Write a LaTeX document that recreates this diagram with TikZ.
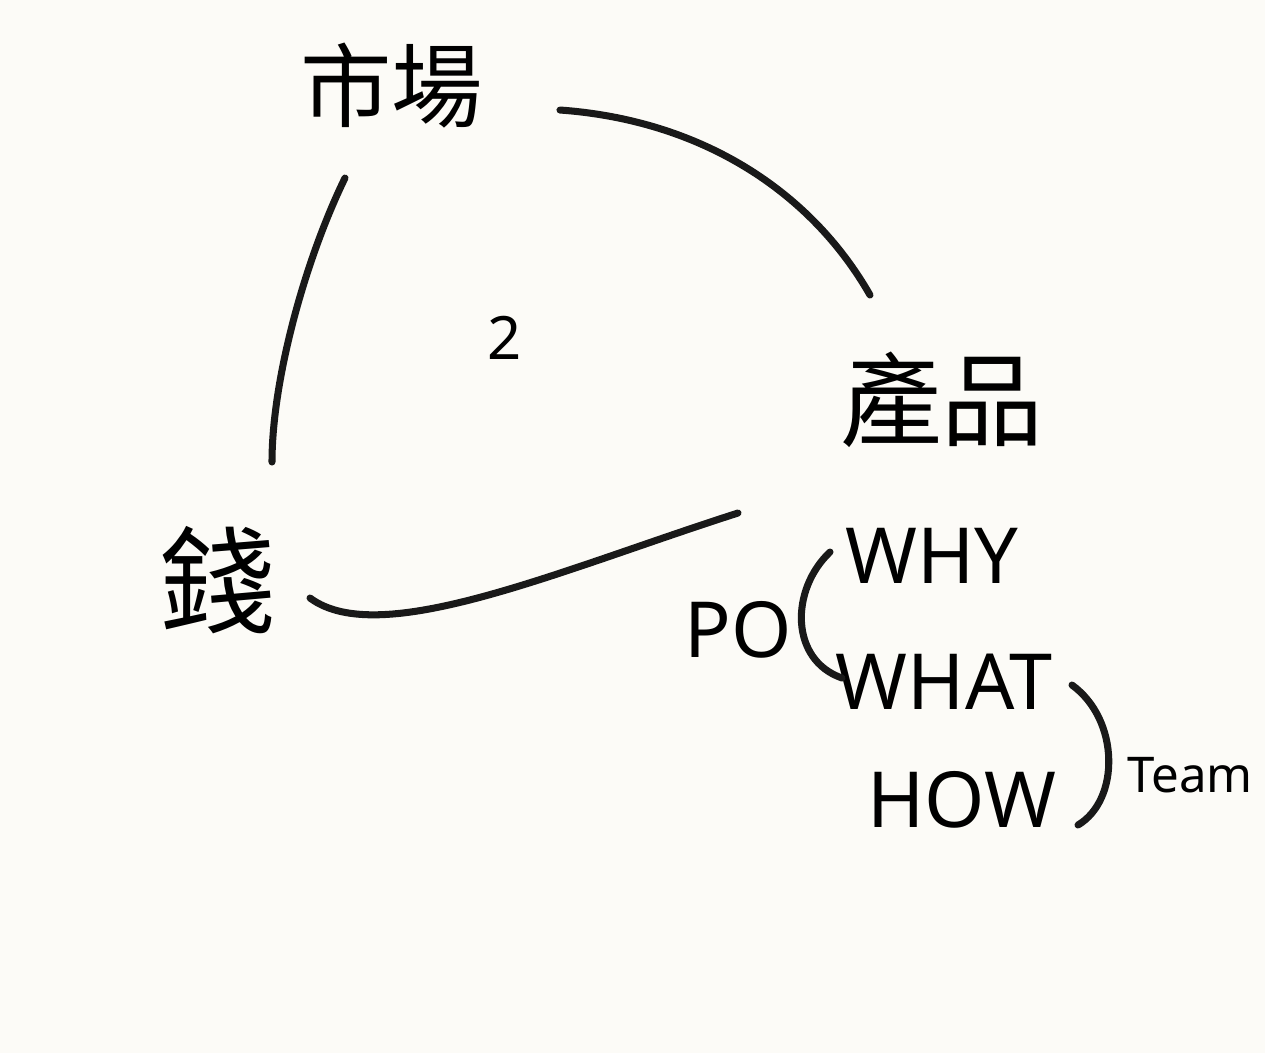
\documentclass[tikz,border=0pt]{standalone}
\usepackage{fontspec}
\newfontfamily\cjk{Noto Sans CJK TC}
\newfontfamily\hand{Noto Sans}
\definecolor{paper}{RGB}{252,251,247}
\begin{document}
\begin{tikzpicture}[x=0.01cm,y=-0.01cm,
  stroke/.style={line width=2pt,line cap=round,black!90},
  cjklabel/.style={font=\cjk\fontsize{26}{30}\selectfont,inner sep=0pt},
  latin/.style={font=\hand\fontsize{22}{26}\selectfont,inner sep=0pt},
  small/.style={font=\hand\fontsize{14}{18}\selectfont,inner sep=0pt}]
\fill[paper] (0,0) rectangle (1265,1053);
\useasboundingbox (0,0) rectangle (1265,1053);
\node[cjklabel] (market) at (392,86) {市場};
\node[cjklabel,font=\cjk\fontsize{29}{32}\selectfont] (product) at (942,400) {產品};
\node[cjklabel,font=\cjk\fontsize{33}{36}\selectfont] (money) at (218,580) {錢};
\node[small,font=\hand\fontsize{17}{20}\selectfont] (two) at (505,338) {2};
\node[latin] (why) at (932,556) {WHY};
\node[latin] (what) at (944,682) {WHAT};
\node[latin] (how) at (962,800) {HOW};
\node[latin] (po) at (738,630) {PO};
\node[small] (team) at (1190,775) {Team};
\coordinate (a1) at (560,110);
\coordinate (a2) at (870,295);
\coordinate (b1) at (345,178);
\coordinate (b2) at (272,462);
\coordinate (c1) at (310,598);
\coordinate (c2) at (738,513);
\draw[stroke] (a1) .. controls (700,120) and (810,190) .. (a2);
\draw[stroke] (b1) .. controls (305,260) and (272,380) .. (b2);
\draw[stroke] (c1) .. controls (380,650) and (560,570) .. (c2);
\coordinate (p1) at (830,552);
\coordinate (p2) at (842,678);
\draw[stroke] (p1) .. controls (790,590) and (790,660) .. (p2);
\coordinate (q1) at (1072,685);
\coordinate (q2) at (1078,825);
\draw[stroke] (q1) .. controls (1120,720) and (1120,800) .. (q2);
\end{tikzpicture}
\end{document}
